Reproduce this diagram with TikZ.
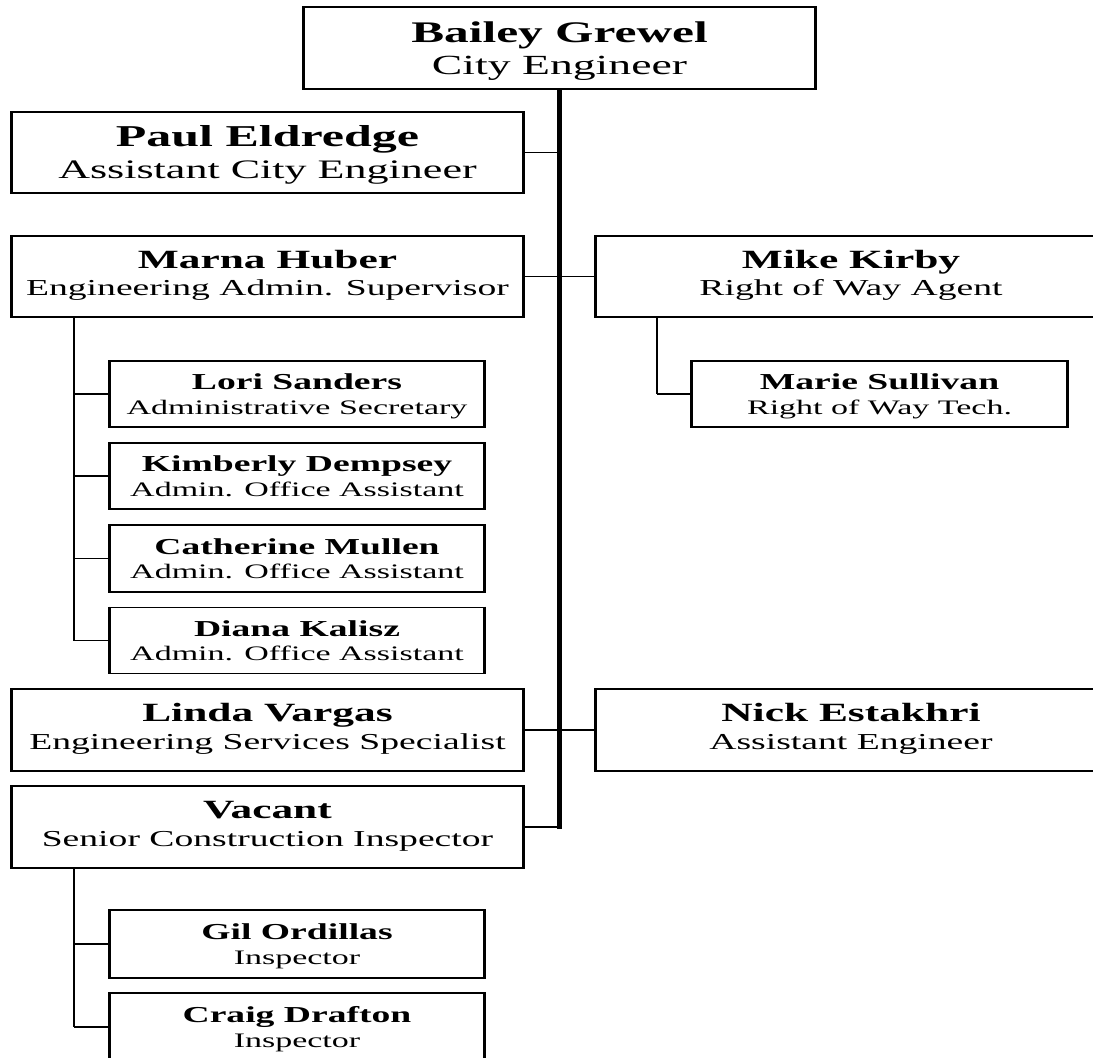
\documentclass[tikz,border=0pt]{standalone}
\usepackage{fontspec}
\setmainfont{Liberation Serif}[FakeStretch=1.65]

\tikzset{
  orgframe/.style={draw, rectangle, inner sep=0pt, line width=1.8pt},
  boxside/.style={line width=2.6pt},
  trunk/.style={line width=4.2pt, line cap=rect},
  branch/.style={line width=2.6pt},
  link/.style={line width=1.3pt},
  % text of the boxes, placed on baselines relative to the box centre
  topname/.style={anchor=base, inner sep=0pt, yshift=6pt,
    font=\fontsize{29.9}{32}\selectfont\bfseries},
  toptitle/.style={anchor=base, inner sep=0pt, yshift=-26pt,
    font=\fontsize{27.7}{30}\selectfont},
  bigname/.style={anchor=base, inner sep=0pt, yshift=6pt,
    font=\fontsize{30.3}{32}\selectfont\bfseries},
  bigtitle/.style={anchor=base, inner sep=0pt, yshift=-26pt,
    font=\fontsize{26.7}{29}\selectfont},
  midname/.style={anchor=base, inner sep=0pt, yshift=8.5pt,
    font=\fontsize{26.3}{28}\selectfont\bfseries},
  midtitle/.style={anchor=base, inner sep=0pt, yshift=-19pt,
    font=\fontsize{22.8}{25}\selectfont},
  subname/.style={anchor=base, inner sep=0pt, yshift=4.5pt,
    font=\fontsize{22.8}{25}\selectfont\bfseries},
  subtitle/.style={anchor=base, inner sep=0pt, yshift=-20pt,
    font=\fontsize{20.6}{23}\selectfont},
}

% \orgbox{id}{cx}{cy}{width}{height}{class}{name}{title}
\newcommand\orgbox[8]{%
  \node[orgframe, minimum width=#4pt, minimum height=#5pt] (#1) at (#2,#3) {};
  \draw[boxside] (#1.north west) -- (#1.south west)
                 (#1.north east) -- (#1.south east);
  \node[#6name] (#1-name) at (#1.center) {#7};
  \node[#6title] (#1-title) at (#1.center) {#8};
}

\begin{document}
\begin{tikzpicture}[x=1pt, y=-1pt]
  \useasboundingbox (0,0) rectangle (1093,1058);
  \clip (0,0) rectangle (1093,1058);

  % boxes
  \orgbox{bailey}{559.5}{48}{511}{82}{top}{Bailey Grewel}{City Engineer}
  \orgbox{paul}{267.5}{152.5}{511}{81}{big}{Paul Eldredge}{Assistant City Engineer}
  \orgbox{marna}{267.5}{276.5}{511}{81}{mid}{Marna Huber}{Engineering Admin. Supervisor}
  \orgbox{mike}{851}{276.5}{510}{81}{mid}{Mike Kirby}{Right of Way Agent}
  \orgbox{marie}{879.5}{394}{375}{66}{sub}{Marie Sullivan}{Right of Way Tech.}
  \orgbox{lori}{297}{394}{374}{66}{sub}{Lori Sanders}{Administrative Secretary}
  \orgbox{kimberly}{297}{476}{374}{66}{sub}{Kimberly Dempsey}{Admin. Office Assistant}
  \orgbox{catherine}{297}{558.5}{374}{67}{sub}{Catherine Mullen}{Admin. Office Assistant}
  \orgbox{diana}{297}{640.5}{374}{66}{sub}{Diana Kalisz}{Admin. Office Assistant}
  \orgbox{linda}{267.5}{730}{511}{82}{mid}{Linda Vargas}{Engineering Services Specialist}
  \orgbox{nick}{851}{730}{510}{82}{mid}{Nick Estakhri}{Assistant Engineer}
  \orgbox{vacant}{267.5}{827}{511}{82}{mid}{Vacant}{Senior Construction Inspector}
  \orgbox{gil}{297}{944}{374}{68}{sub}{Gil Ordillas}{Inspector}
  \orgbox{craig}{297}{1027}{374}{68}{sub}{Craig Drafton}{Inspector}

  % main trunk and its links
  \draw[trunk] (bailey.south) -- (bailey.south |- vacant.east);
  \draw[link] (paul.east) -- (paul.east -| bailey.south);
  \draw[link] (marna.east) -- (mike.west);
  \draw[link] (linda.east) -- (nick.west);
  \draw[link] (vacant.east) -- (vacant.east -| bailey.south);

  % right of way branch
  \coordinate (mk) at (657,317);
  \draw[branch] (mk) -- (mk |- marie.west);
  \draw[link] (mk |- marie.west) -- (marie.west);

  % administration branch
  \coordinate (mh) at (74,317);
  \draw[branch] (mh) -- (mh |- diana.west);
  \foreach \n in {lori,kimberly,catherine,diana}
    \draw[link] (mh |- \n.west) -- (\n.west);

  % inspection branch
  \coordinate (vc) at (74,868);
  \draw[branch] (vc) -- (vc |- craig.west);
  \foreach \n in {gil,craig}
    \draw[link] (vc |- \n.west) -- (\n.west);
\end{tikzpicture}
\end{document}
